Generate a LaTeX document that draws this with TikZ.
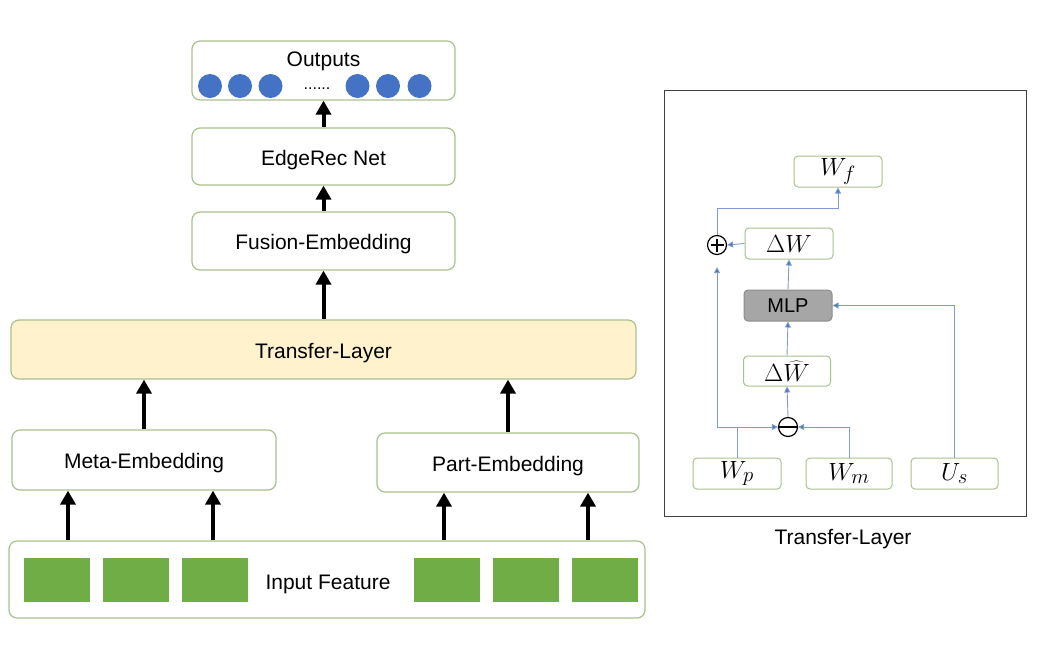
\documentclass[tikz,border=0pt]{standalone}
\usepackage{fontspec}
\setmainfont{Liberation Sans}
\usetikzlibrary{arrows.meta}
\definecolor{boxline}{HTML}{A9C18C}
\definecolor{dotblue}{HTML}{4472C4}
\definecolor{sqgreen}{HTML}{70AD47}
\definecolor{tlfill}{HTML}{FFF2CC}
\definecolor{mlpfill}{HTML}{A6A6A6}
\definecolor{conn}{HTML}{7F9CCB}
\begin{document}
\begin{tikzpicture}[x=1pt,y=-1pt,
  box/.style={draw=boxline, line width=1.2pt, rounded corners=8pt, fill=white, inner sep=0pt},
  lbl/.style={font=\fontsize{21}{24}\selectfont, text height=18pt, text depth=1pt},
  sbox/.style={draw=boxline, line width=1pt, rounded corners=4pt, fill=white, inner sep=0pt, minimum height=31pt, font=\fontsize{24.88}{28}\selectfont},
  bigarrow/.style={line width=4pt, -{Triangle[width=15pt,length=14pt]}},
  barrow/.style={draw=conn, line width=0.9pt, -{Triangle[width=6pt,length=6pt,fill=dotblue]}},
  opc/.style={circle, draw=black, line width=1.2pt, minimum size=19pt, inner sep=0pt},
  dot/.style={circle, fill=dotblue, minimum size=24pt, inner sep=0pt},
  sq/.style={fill=sqgreen, minimum width=66pt, minimum height=44pt, inner sep=0pt}
]
\useasboundingbox (0,0) rectangle (1038,649);

% ---------- left column ----------
\node[box, minimum width=263pt, minimum height=59pt] (out) at (323.5,70.5) {};
\node[lbl] (outt) at (323.5,58) {Outputs};
\node[dot] (o1) at (210,86) {};
\node[dot] (o2) at (240,86) {};
\node[dot] (o3) at (270.5,86) {};
\node[font=\fontsize{16}{18}\selectfont] (odots) at (317,89) {......};
\node[dot] (o4) at (357.5,86) {};
\node[dot] (o5) at (388,86) {};
\node[dot] (o6) at (419.5,86) {};

\node[box, lbl, minimum width=263pt, minimum height=57pt] (edge) at (323.5,156.5) {EdgeRec Net};
\node[box, lbl, minimum width=263pt, minimum height=58pt] (fusion) at (323.5,241) {Fusion-Embedding};
\node[box, lbl, fill=tlfill, minimum width=625pt, minimum height=59pt] (transfer) at (323.5,349.5) {Transfer-Layer};
\node[box, lbl, minimum width=264pt, minimum height=60pt] (meta) at (144,460) {Meta-Embedding};
\node[box, lbl, minimum width=262pt, minimum height=59pt] (part) at (508,462.5) {Part-Embedding};
\node[box, minimum width=636pt, minimum height=77pt] (input) at (327,579.5) {};
\node[lbl] (inputt) at (328,581) {Input Feature};
\node[sq] (s1) at (57,580) {};
\node[sq] (s2) at (135.5,580) {};
\node[sq] (s3) at (215,580) {};
\node[sq] (s4) at (446.5,580) {};
\node[sq] (s5) at (525.5,580) {};
\node[sq] (s6) at (604.5,580) {};

\coordinate (x68) at (68,0);
\coordinate (x213) at (213,0);
\coordinate (x444) at (444,0);
\coordinate (x588) at (588,0);

\draw[bigarrow] (edge.north) -- (out.south);
\draw[bigarrow] (fusion.north) -- (edge.south);
\draw[bigarrow] (transfer.north -| fusion.south) -- (fusion.south);
\draw[bigarrow] (meta.north) -- (meta.north |- transfer.south);
\draw[bigarrow] (part.north) -- (part.north |- transfer.south);
\draw[bigarrow] (input.north -| x68) -- (meta.south -| x68);
\draw[bigarrow] (input.north -| x213) -- (meta.south -| x213);
\draw[bigarrow] (input.north -| x444) -- (part.south -| x444);
\draw[bigarrow] (input.north -| x588) -- (part.south -| x588);

% ---------- right panel ----------
\node[draw=black!75, line width=1pt, minimum width=362pt, minimum height=426pt, inner sep=0pt] (frame) at (845,303) {};
\node[lbl] (cap) at (843,536) {Transfer-Layer};

\node[sbox, minimum width=88pt] (wf) at (838,171.5) {$W_f$};
\node[sbox, minimum width=88pt] (dw) at (789,243.5) {$\Delta W$};
\node[opc] (plus) at (717,245) {};
\draw[line width=1.2pt] ([xshift=-6.5pt]plus.center) -- ([xshift=6.5pt]plus.center)
  ([yshift=-6.5pt]plus.center) -- ([yshift=6.5pt]plus.center);
\node[sbox, fill=mlpfill, draw=black!45, minimum width=88pt, font=\fontsize{20}{22}\selectfont] (mlp) at (788,305.5) {MLP};
\node[sbox, minimum width=87pt, minimum height=30pt] (dwh) at (787,371) {$\Delta\widehat{W}$};
\node[opc] (minus) at (788,427) {};
\draw[line width=1.2pt] ([xshift=-9.5pt]minus.center) -- ([xshift=9.5pt]minus.center);
\node[sbox, minimum width=88pt] (wp) at (737,473.5) {$W_p$};
\node[sbox, minimum width=86pt] (wm) at (849,473.5) {$W_m$};
\node[sbox, minimum width=87pt] (us) at (954.5,473.5) {$U_s$};

\coordinate (turn) at (717,208);
\draw[barrow] (wp.north) |- (minus.west);
\draw[barrow] (wp.north |- minus.west) -| ([yshift=-12pt]plus.south);
\draw[barrow] (wm.north) |- (minus.east);
\draw[barrow] (minus.north) -- (dwh.south);
\draw[barrow] (dwh.north) -- (mlp.south);
\draw[barrow] (mlp.north) -- (dw.south);
\draw[barrow] (dw.west) -- (plus.east);
\draw[barrow] (plus.north) -- (turn) -| (wf.south);
\draw[barrow] (us.north) |- (mlp.east);
\end{tikzpicture}
\end{document}
